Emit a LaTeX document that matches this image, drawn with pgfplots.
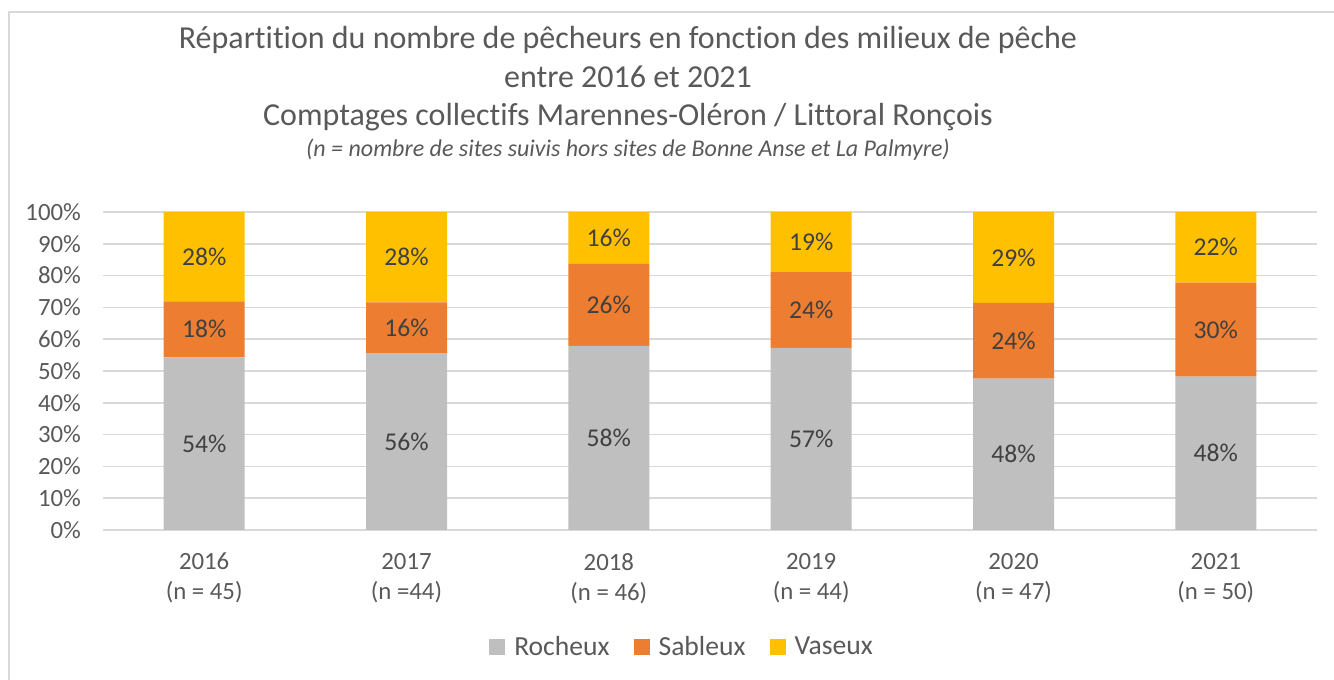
\documentclass[border=0pt]{standalone}
\usepackage{pgfplots}
\pgfplotsset{compat=1.18}
\usepackage{fontspec}
\setmainfont{Carlito}[Ligatures=NoCommon]
\definecolor{roch}{HTML}{BFBFBF}
\definecolor{sabl}{HTML}{ED7D31}
\definecolor{vase}{HTML}{FFC000}
\definecolor{txt}{HTML}{595959}
\definecolor{lab}{HTML}{404040}
\definecolor{grd}{HTML}{D9D9D9}
\begin{document}
\begin{tikzpicture}[x=1pt,y=1pt]
\path[use as bounding box] (0,0) rectangle (667,340);
\draw[grd, line width=1pt] (4.5,0) -- (4.5,333.75) -- (667,333.75);
% titles
\node[txt, font=\fontsize{16}{19}\selectfont] at (314,320) {Répartition du nombre de pêcheurs en fonction des milieux de pêche};
\node[txt, font=\fontsize{16}{19}\selectfont] at (314,301.5) {entre 2016 et 2021};
\node[txt, font=\fontsize{16}{19}\selectfont] at (314,281.5) {Comptages collectifs Marennes-Oléron / Littoral Ronçois};
\node[txt, font=\fontsize{12}{14}\selectfont\itshape] at (314,265) {(n = nombre de sites suivis hors sites de Bonne Anse et La Palmyre)};
\begin{axis}[
  at={(51.5pt,75pt)}, anchor=south west,
  scale only axis, width=607pt, height=159pt,
  ybar stacked, bar width=40.5pt,
  xmin=-0.5, xmax=5.5, ymin=0, ymax=100,
  xtick={0,1,2,3,4,5},
  xticklabels={{2016\\(n = 45)},{2017\\(n =44)},{2018\\(n = 46)},{2019\\(n = 44)},{2020\\(n = 47)},{2021\\(n = 50)}},
  ytick={0,10,...,100},
  yticklabels={0\%,10\%,20\%,30\%,40\%,50\%,60\%,70\%,80\%,90\%,100\%},
  ymajorgrids, grid style={grd, line width=0.75pt},
  axis line style={draw=none},
  major tick length=0pt,
  tick label style={txt, font=\fontsize{12.4}{15}\selectfont},
  xticklabel style={align=center, yshift=-8pt},
  yticklabel style={xshift=-7.5pt},
  legend style={at={(0.4778,-0.368)}, anchor=center, draw=none, fill=none,
    legend columns=3, font=\fontsize{13.8}{16}\selectfont, text=txt,
    /tikz/every odd column/.append style={column sep=2.5pt},
    /tikz/every even column/.append style={column sep=10pt}},
  legend image code/.code={\fill[#1, draw=none] (0pt,-4pt) rectangle (8pt,4pt);},
]
\addplot[fill=roch, draw=none] coordinates {(0,54.3) (1,55.6) (2,57.9) (3,57.3) (4,47.6) (5,48.2)};
\addplot[fill=sabl, draw=none] coordinates {(0,17.6) (1,16.0) (2,25.8) (3,23.8) (4,23.8) (5,29.6)};
\addplot[fill=vase, draw=none] coordinates {(0,28.1) (1,28.4) (2,16.3) (3,18.9) (4,28.6) (5,22.2)};
\legend{Rocheux,Sableux,Vaseux}
\end{axis}
\begin{axis}[
  at={(51.5pt,75pt)}, anchor=south west,
  scale only axis, width=607pt, height=159pt,
  xmin=-0.5, xmax=5.5, ymin=0, ymax=100,
  hide axis,
]
\addplot[only marks, mark=none, nodes near coords, point meta=explicit symbolic,
  every node near coord/.append style={anchor=center, text=lab, font=\fontsize{12.8}{15}\selectfont}]
  table[meta=lab] {
x y lab
0 27.15 54\%
0 63.1 18\%
0 85.95 28\%
1 27.8 56\%
1 63.6 16\%
1 85.8 28\%
2 28.95 58\%
2 70.8 26\%
2 91.85 16\%
3 28.65 57\%
3 69.2 24\%
3 90.55 19\%
4 23.8 48\%
4 59.5 24\%
4 85.7 29\%
5 24.1 48\%
5 63.0 30\%
5 88.9 22\%
};
\end{axis}
\end{tikzpicture}
\end{document}
